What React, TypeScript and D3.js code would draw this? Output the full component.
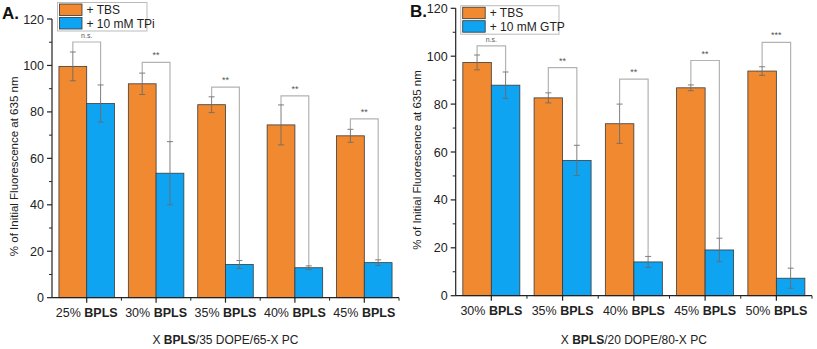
import React from "react";
import * as d3 from "d3";

// panel A
const catsA = ["25%", "30%", "35%", "40%", "45%"];
const tbsA = [99.6, 92.1, 83.1, 74.4, 69.7];
const tbsErrA = [6.2, 4.6, 3.4, 8.6, 2.8];
const tpiA = [83.6, 53.6, 14.3, 12.9, 15.1];
const tpiErrA = [8.0, 13.6, 1.7, 0.8, 1.2];
const sigA = ["n.s.", "**", "**", "**", "**"];
const sigTopA = [110.1, 101.3, 90.7, 86.9, 77.0];

// panel B
const catsB = ["30%", "35%", "40%", "45%", "50%"];
const tbsB = [97.4, 82.6, 71.8, 86.8, 93.8];
const tbsErrB = [3.1, 2.1, 8.2, 1.2, 1.8];
const gtpB = [87.9, 56.5, 14.1, 19.1, 7.3];
const gtpErrB = [5.5, 6.3, 2.3, 4.9, 4.2];
const sigB = ["n.s.", "**", "**", "**", "***"];
const sigTopB = [104.3, 95.2, 90.4, 98.2, 105.8];

const yTicks = [0, 20, 40, 60, 80, 100, 120];
const yMinor = [10, 30, 50, 70, 90, 110];

const ORANGE = "#f0892f";
const BLUE = "#0fa4f2";
const FONT = "'Liberation Sans', Arial, sans-serif";

type PanelProps = {
  cats: string[];
  a: number[];
  aErr: number[];
  b: number[];
  bErr: number[];
  sig: string[];
  sigTop: number[];
  legendB: string;
  xTitleTail: string;
  x0: number;
  x1: number;
  yBottom: number;
  yTop: number;
  legendX: number;
  legendY: number;
  legendW: number;
  yTitleX: number;
};

const Panel = (p: PanelProps) => {
  const x = d3.scaleBand().domain(p.cats).range([p.x0, p.x1]).paddingInner(0.2).paddingOuter(0.1);
  const sub = d3.scaleBand().domain(["a", "b"]).range([0, x.bandwidth()]);
  const y = d3.scaleLinear().domain([0, 120]).range([p.yBottom, p.yTop]);
  const bw = sub.bandwidth();
  const step = x.step();

  const errBar = (cx: number, v: number, e: number, key: string) => (
    <g key={key} stroke="#6a6a6a" strokeWidth={1} opacity={0.85}>
      <line x1={cx} x2={cx} y1={y(v + e)} y2={y(v - e)} />
      <line x1={cx - 3} x2={cx + 3} y1={y(v + e)} y2={y(v + e)} />
      <line x1={cx - 3} x2={cx + 3} y1={y(v - e)} y2={y(v - e)} />
    </g>
  );

  const midY = (p.yBottom + p.yTop) / 2 + 8;

  return (
    <g fontFamily={FONT}>
      {/* significance brackets */}
      {p.cats.map((c, i) => {
        const xa = (x(c) as number) + (sub("a") as number) + bw / 2;
        const xb = (x(c) as number) + (sub("b") as number) + bw / 2;
        const top = y(p.sigTop[i]);
        return (
          <g key={"s" + c}>
            <path
              d={`M${xa},${y(p.a[i] + p.aErr[i])}V${top}H${xb}V${y(p.b[i] + p.bErr[i])}`}
              fill="none"
              stroke="#b3b3b3"
              strokeWidth={1.2}
            />
            <text x={(xa + xb) / 2} y={top - 4} textAnchor="middle" fontSize={p.sig[i] === "n.s." ? 7 : 9} fill="#555">
              {p.sig[i]}
            </text>
          </g>
        );
      })}
      {/* bars */}
      {p.cats.map((c, i) => (
        <g key={"b" + c}>
          <rect
            x={(x(c) as number) + (sub("a") as number)}
            y={y(p.a[i])}
            width={bw}
            height={y(0) - y(p.a[i])}
            fill={ORANGE}
            stroke="#3a3a3a"
            strokeWidth={0.8}
          />
          <rect
            x={(x(c) as number) + (sub("b") as number)}
            y={y(p.b[i])}
            width={bw}
            height={y(0) - y(p.b[i])}
            fill={BLUE}
            stroke="#3a3a3a"
            strokeWidth={0.8}
          />
          {errBar((x(c) as number) + (sub("a") as number) + bw / 2, p.a[i], p.aErr[i], "ea" + c)}
          {errBar((x(c) as number) + (sub("b") as number) + bw / 2, p.b[i], p.bErr[i], "eb" + c)}
        </g>
      ))}
      {/* y axis */}
      <line x1={p.x0} x2={p.x0} y1={y(0)} y2={y(120)} stroke="#222" strokeWidth={1.2} />
      {yTicks.map((t) => (
        <g key={"yt" + t}>
          <line x1={p.x0 - 5} x2={p.x0} y1={y(t)} y2={y(t)} stroke="#222" strokeWidth={1.2} />
          <text x={p.x0 - 8} y={y(t) + 4.5} textAnchor="end" fontSize={12.5} fill="#222">
            {t}
          </text>
        </g>
      ))}
      {yMinor.map((t) => (
        <line key={"ym" + t} x1={p.x0 - 3} x2={p.x0} y1={y(t)} y2={y(t)} stroke="#222" strokeWidth={1} />
      ))}
      {/* x axis */}
      <line x1={p.x0} x2={p.x1} y1={y(0)} y2={y(0)} stroke="#222" strokeWidth={1.2} />
      {p.cats.map((c) => {
        const cx = (x(c) as number) + x.bandwidth() / 2;
        return (
          <g key={"xt" + c}>
            <line x1={cx} x2={cx} y1={y(0)} y2={y(0) + 5} stroke="#222" strokeWidth={1.2} />
            <line x1={cx + step / 2} x2={cx + step / 2} y1={y(0)} y2={y(0) + 3} stroke="#222" strokeWidth={1} />
            <text x={cx} y={y(0) + 19} textAnchor="middle" fontSize={12.5} fill="#222">
              {c} <tspan fontWeight="bold">BPLS</tspan>
            </text>
          </g>
        );
      })}
      {/* axis titles */}
      <text x={(p.x0 + p.x1) / 2} y={344} textAnchor="middle" fontSize={12} fill="#222">
        X <tspan fontWeight="bold">BPLS</tspan>
        {p.xTitleTail}
      </text>
      <text
        transform={`translate(${p.yTitleX},${midY}) rotate(-90)`}
        textAnchor="middle"
        fontSize={11.5}
        fill="#222"
      >
        % of Initial Fluorescence at 635 nm
      </text>
      {/* legend */}
      <g transform={`translate(${p.legendX},${p.legendY})`}>
        <rect x={0} y={0} width={p.legendW} height={28.5} fill="#fff" stroke="#bbb" strokeWidth={1} />
        <rect x={2} y={1.5} width={22.5} height={11.5} fill={ORANGE} stroke="#333" strokeWidth={0.8} />
        <rect x={2} y={15} width={22.5} height={11.5} fill={BLUE} stroke="#333" strokeWidth={0.8} />
        <text x={29} y={11.8} fontSize={12} fill="#222">
          + TBS
        </text>
        <text x={29} y={25.3} fontSize={12} fill="#222">
          {p.legendB}
        </text>
      </g>
    </g>
  );
};

export default function App() {
  return (
    <svg width={817} height={349} style={{ position: "absolute", left: 0, top: 0, background: "#fff" }}>
      <Panel
        cats={catsA}
        a={tbsA}
        aErr={tbsErrA}
        b={tpiA}
        bErr={tpiErrA}
        sig={sigA}
        sigTop={sigTopA}
        legendB="+ 10 mM TPi"
        xTitleTail="/35 DOPE/65-X PC"
        x0={52}
        x1={399}
        yBottom={297.7}
        yTop={19}
        legendX={57.5}
        legendY={2.5}
        legendW={89.5}
        yTitleX={17.5}
      />
      <Panel
        cats={catsB}
        a={tbsB}
        aErr={tbsErrB}
        b={gtpB}
        bErr={gtpErrB}
        sig={sigB}
        sigTop={sigTopB}
        legendB="+ 10 mM GTP"
        xTitleTail="/20 DOPE/80-X PC"
        x0={455.7}
        x1={812}
        yBottom={295.7}
        yTop={8.3}
        legendX={460.7}
        legendY={5.7}
        legendW={98.3}
        yTitleX={420.5}
      />
      <text x={2} y={19} fontFamily={FONT} fontWeight="bold" fontSize={17} fill="#111">
        A.
      </text>
      <text x={410} y={17} fontFamily={FONT} fontWeight="bold" fontSize={17} fill="#111">
        B.
      </text>
    </svg>
  );
}
